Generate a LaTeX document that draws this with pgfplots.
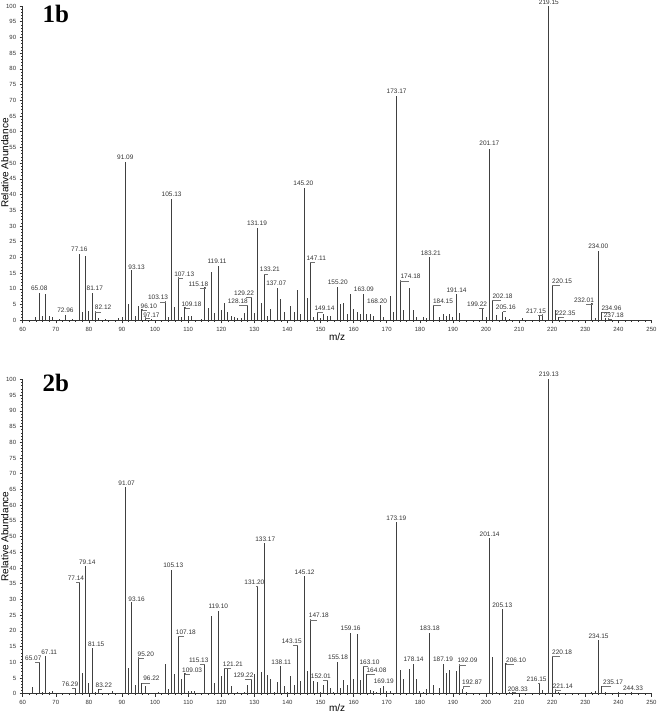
\documentclass[border=0pt]{standalone}
\usepackage{fontspec}
\setmainfont{Liberation Sans}
\newfontfamily\titlefont{Liberation Serif}
\usepackage{pgfplots}
\usepackage{pgfplotstable}
\pgfplotsset{compat=1.18}

\pgfplotstableread{
mz int
64 1.2
65 8.7
66 1.4
67 8.3
68 1.5
69 1.0
71 0.4
73 1.8
75 0.5
77 21.2
78 2.8
79 20.5
80 3.0
81 8.7
82 2.9
83 0.6
85 0.4
89 0.8
90 1.2
91 50.4
92 5.2
93 16.0
94 1.3
95 4.7
96 3.5
97 1.2
99 0.5
103 6.0
104 1.2
105 38.6
106 4.3
107 13.8
108 0.9
109 4.1
110 1.4
111 1.4
114 0.5
115 10.5
116 3.9
117 15.3
118 2.4
119 17.2
120 3.4
121 5.4
122 2.6
123 1.5
124 1.1
125 0.8
126 0.6
127 2.2
128 4.9
129 7.2
130 2.2
131 29.5
132 5.5
133 14.7
134 1.4
135 3.5
137 10.3
138 6.8
139 2.7
141 4.7
142 2.6
143 9.6
144 2.0
145 42.1
146 7.2
147 18.4
148 1.1
149 2.6
150 0.7
151 2.0
152 1.4
153 1.4
155 10.5
156 5.1
157 5.5
158 2.0
159 8.3
160 3.5
161 2.5
162 2.0
163 8.5
164 2.0
165 2.0
166 1.5
168 4.9
169 1.0
171 7.7
172 2.7
173 71.4
174 12.9
175 3.3
177 10.3
178 3.3
179 1.2
181 1.0
182 0.6
183 20.1
184 5.0
186 1.0
187 2.0
188 1.5
189 2.0
190 1.0
191 8.3
192 2.2
199 3.7
200 1.0
201 54.6
202 6.4
203 1.6
205 2.8
206 1.0
207 0.5
211 0.7
216 1.4
217 1.9
219 100
220 11.2
221 3.3
222 1.0
232 5.4
233 0.7
234 22.2
235 2.8
236 0.7
237 0.6
}\topdata

\pgfplotstableread{
x y lab
65.0 10.1 65.08
72.9 3.1 72.96
77.1 22.6 77.16
81.8 10.1 81.17
84.3 4.0 82.12
91.0 51.9 91.09
94.4 16.8 93.13
98.1 4.4 96.10
98.9 1.7 97.17
100.9 7.2 103.13
105.0 40.0 105.13
108.8 14.7 107.13
111.0 5.1 109.18
113.1 11.6 115.18
118.7 18.7 119.11
125.0 6.2 128.18
126.9 8.6 129.22
130.8 31.0 131.19
134.7 16.1 133.21
136.6 11.7 137.07
144.8 43.6 145.20
148.7 19.8 147.11
151.2 3.9 149.14
155.2 12.0 155.20
163.1 9.9 163.09
167.1 6.1 168.20
173.0 73.0 173.17
177.2 13.9 174.18
183.3 21.4 183.21
187.0 6.2 184.15
191.1 9.7 191.14
197.3 5.1 199.22
201.0 56.2 201.17
205.0 7.6 202.18
206.0 4.1 205.16
215.1 2.9 217.15
219.0 101.1 219.15
223.0 12.4 220.15
224.0 2.2 222.35
229.6 6.5 232.01
233.9 23.4 234.00
237.9 3.9 234.96
238.6 1.6 237.18
}\toplabels

\pgfplotstableread{
mz int
63 2.2
65 9.9
66 0.4
67 12.0
68 0.6
69 0.8
71 0.3
76 1.7
77 35.6
78 6.7
79 40.7
80 3.5
81 14.4
82 0.6
83 1.4
87 0.8
91 65.8
92 8.1
93 29.3
94 2.9
95 11.6
96 3.5
97 2.4
98 0.3
101 0.5
103 9.4
104 1.5
105 39.4
106 6.4
107 18.4
108 4.6
109 6.6
110 1.0
111 1.0
112 1.0
115 9.4
117 24.7
118 3.5
119 26.3
120 5.7
121 8.1
122 8.0
123 2.4
125 0.7
127 0.4
128 2.9
129 4.7
130 6.4
131 34.3
132 6.8
133 47.8
134 5.8
135 4.6
136 0.7
137 3.8
138 8.8
139 2.4
140 0.5
141 5.7
142 2.9
143 15.5
144 3.9
145 37.5
146 7.3
147 23.8
148 4.0
149 3.8
150 0.7
151 2.9
152 4.2
153 1.9
154 0.4
155 10.1
156 1.8
157 4.4
158 2.9
159 19.2
160 4.7
161 18.9
162 4.4
163 8.8
164 6.4
165 1.2
166 0.8
167 0.5
168 1.9
169 2.4
170 1.0
171 0.8
173 54.5
174 7.5
175 4.7
177 7.9
178 9.4
179 4.8
180 0.8
181 0.5
182 1.6
183 19.4
184 2.7
186 1.7
187 9.4
188 6.6
189 7.4
191 7.3
192 9.4
193 1.5
194 0.5
201 49.5
202 11.8
203 0.4
205 26.9
206 9.7
207 0.6
208 0.5
216 3.5
217 1.2
219 100
220 12.1
221 1.4
222 0.4
232 0.6
233 1.0
234 17.0
235 2.4
236 0.4
240 0.6
244 0.4
}\botdata

\pgfplotstableread{
x y lab
63.2 11.4 65.07
68.0 13.3 67.11
74.3 3.0 76.29
76.1 36.7 77.14
79.5 41.9 79.14
82.2 15.6 81.15
84.5 2.7 83.22
91.4 67.0 91.07
94.4 30.1 93.16
97.2 12.6 95.20
98.9 4.8 96.22
105.5 41.0 105.13
109.3 19.5 107.18
111.2 7.6 109.03
113.2 10.7 115.13
119.1 27.8 119.10
123.5 9.3 121.21
126.7 5.8 129.22
130.0 35.6 131.20
133.3 49.2 133.17
138.1 10.0 138.11
141.3 16.6 143.15
145.2 38.7 145.12
149.5 24.8 147.18
150.1 5.7 152.01
155.3 11.5 155.18
159.1 20.8 159.16
164.8 9.9 163.10
166.9 7.4 164.08
169.1 3.8 169.19
172.9 55.8 173.19
178.1 10.9 178.14
183.0 20.8 183.18
187.0 10.9 187.19
194.4 10.5 192.09
195.8 3.6 192.87
201.1 50.7 201.14
204.9 28.2 205.13
209.1 10.7 206.10
209.6 1.5 208.33
215.3 4.7 216.15
219.0 101.5 219.13
223.0 13.3 220.18
223.2 2.5 221.14
234.0 18.3 234.15
238.4 3.6 235.17
244.4 1.6 244.33
}\botlabels

\pgfplotsset{
  ms/.style={
    scale only axis, width=628.8pt, height=314.3pt,
    xmin=60, xmax=250, ymin=0, ymax=100,
    axis x line*=bottom, axis y line*=left,
    axis line style={black!80, line width=0.6pt},
    xtick={60,70,...,250}, ytick={0,5,...,100},
    minor x tick num=4, minor y tick num=4,
    tick align=outside,
    major tick length=3pt, minor tick length=1.5pt,
    tick style={black!80, line width=0.5pt},
    ticklabel style={font=\fontsize{6}{7}\selectfont, text=black!80},
    /pgf/number format/assume math mode=true,
    xlabel={m/z}, ylabel={Relative Abundance},
    label style={font=\fontsize{6}{7}\selectfont, text=black!80},
    every axis x label/.style={at={(axis description cs:0.5,-0.052)}, anchor=center},
    every axis y label/.style={at={(axis description cs:-0.0286,0.5)}, rotate=90, anchor=center},
    clip=false, unbounded coords=jump,
  },
  peaks/.style={ycomb, black!75, line width=0.9pt, mark=none},
  leads/.style={black!55, line width=0.4pt, mark=none},
  labs/.style={draw=none, mark=none, nodes near coords, point meta=explicit symbolic,
    every node near coord/.append style={anchor=center, inner sep=0pt, font=\fontsize{6.5}{7}\selectfont, text=black!80}},
}

\begin{document}
\begin{tikzpicture}
\useasboundingbox (-22.7pt,-392.7pt) rectangle (634.3pt,320.3pt);
\begin{axis}[ms, at={(0pt,0pt)}]
\addplot[peaks] table[x=mz, y=int] {\topdata};
\addplot[leads] coordinates {
(82,2.9)(82,2.7)(83.8,2.7)(83,nan)
(96,3.5)(96,3.1)(97.6,3.1)(97,nan)
(97,1.2)(97,0.6)(98.4,0.6)(98,nan)
(103,6.0)(103,5.9)(101.4,5.9)(102,nan)
(107,13.8)(107,13.4)(108.3,13.4)(108,nan)
(109,4.1)(109,3.8)(110.5,3.8)(110,nan)
(115,10.5)(115,10.3)(113.6,10.3)(114,nan)
(128,4.9)(128,4.9)(125.5,4.9)(126,nan)
(129,7.2)(129,7.3)(127.4,7.3)(128,nan)
(133,14.7)(133,14.8)(134.2,14.8)(134,nan)
(147,18.4)(147,18.5)(148.2,18.5)(148,nan)
(149,2.6)(149,2.6)(150.7,2.6)(150,nan)
(174,12.9)(174,12.6)(176.7,12.6)(176,nan)
(184,5.0)(184,4.9)(186.5,4.9)(186,nan)
(199,3.7)(199,3.8)(197.8,3.8)(198,nan)
(202,6.4)(202,6.3)(204.5,6.3)(204,nan)
(205,2.8)(205,2.8)(206.0,2.8)(206,nan)
(217,1.9)(217,1.6)(215.6,1.6)(216,nan)
(220,11.2)(220,11.1)(222.5,11.1)(222,nan)
(222,1.0)(222,0.9)(223.5,0.9)(223,nan)
(232,5.4)(232,5.2)(230.1,5.2)(231,nan)
(235,2.8)(235,2.6)(237.4,2.6)(237,nan)
(237,0.6)(237,0.4)(238.1,0.4)
};
\addplot[labs] table[x=x, y=y, meta=lab] {\toplabels};
\node[font=\titlefont\bfseries\fontsize{25}{25}\selectfont] at (axis cs:70,97.5) {1b};
\end{axis}
\begin{axis}[ms, at={(0pt,-373.4pt)},
    every axis x label/.style={at={(axis description cs:0.5,-0.044)}, anchor=center}]
\addplot[peaks] table[x=mz, y=int] {\botdata};
\addplot[leads] coordinates {
(65,9.9)(65,10.1)(63.7,10.1)(64,nan)
(76,1.7)(76,1.7)(74.8,1.7)(75,nan)
(77,35.6)(77,35.4)(76.0,35.4)(76,nan)
(83,1.4)(83,1.4)(84.0,1.4)(84,nan)
(95,11.6)(95,11.3)(96.7,11.3)(96,nan)
(96,3.5)(96,3.5)(98.4,3.5)(98,nan)
(107,18.4)(107,18.2)(108.8,18.2)(108,nan)
(109,6.6)(109,6.3)(110.7,6.3)(110,nan)
(115,9.4)(115,9.4)(113.7,9.4)(114,nan)
(121,8.1)(121,8.0)(123.0,8.0)(122,nan)
(129,4.7)(129,4.5)(127.2,4.5)(128,nan)
(131,34.3)(131,34.3)(130.5,34.3)(130,nan)
(143,15.5)(143,15.3)(141.8,15.3)(142,nan)
(147,23.8)(147,23.5)(149.0,23.5)(148,nan)
(152,4.2)(152,4.4)(150.6,4.4)(151,nan)
(163,8.8)(163,8.6)(164.3,8.6)(164,nan)
(164,6.4)(164,6.1)(166.4,6.1)(165,nan)
(192,9.4)(192,9.2)(193.9,9.2)(193,nan)
(193,1.5)(193,2.3)(195.3,2.3)(194,nan)
(206,9.7)(206,9.4)(208.6,9.4)(207,nan)
(208,0.5)(208,0.5)(209.1,0.5)(209,nan)
(216,3.5)(216,3.4)(215.8,3.4)(216,nan)
(220,12.1)(220,12.0)(222.5,12.0)(221,nan)
(221,1.4)(221,1.2)(222.7,1.2)(222,nan)
(235,2.4)(235,2.3)(237.9,2.3)
};
\addplot[labs] table[x=x, y=y, meta=lab] {\botlabels};
\node[font=\titlefont\bfseries\fontsize{25}{25}\selectfont] at (axis cs:70,99) {2b};
\end{axis}
\end{tikzpicture}
\end{document}
